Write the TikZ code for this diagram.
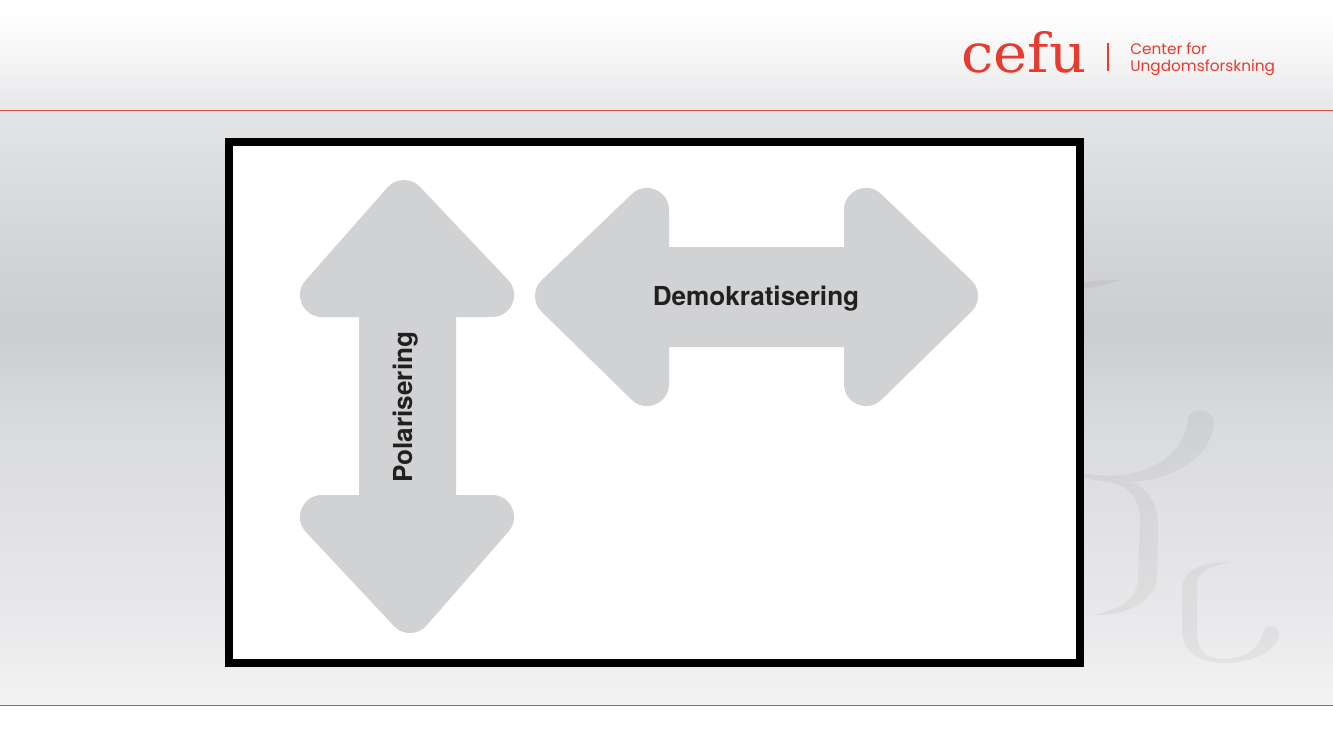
\documentclass[tikz,border=0pt]{standalone}
\usepackage{fontspec}
\setmainfont{TeX Gyre Heros}
\newfontfamily\cefufont{DejaVu Serif}
\newfontfamily\logofont{Poppins}
\definecolor{cefured}{HTML}{E63B2E}
\definecolor{ruletop}{HTML}{DE4A3A}
\definecolor{rulelow}{HTML}{BC5C38}
\definecolor{arrowgray}{HTML}{D1D2D4}
\definecolor{labelink}{HTML}{231F20}
\definecolor{bgA}{HTML}{F3F3F4}
\definecolor{bgB}{HTML}{E9E9EB}
\definecolor{bgC}{HTML}{D9DADC}
\definecolor{bgD}{HTML}{CCCDCF}
\definecolor{bgE}{HTML}{D3D4D6}
\definecolor{bgF}{HTML}{E3E4E6}
\definecolor{bgG}{HTML}{E6E7E9}
\pgfdeclareverticalshading{bandshade}{100bp}{
  color(0bp)=(bgA);
  color(25bp)=(bgA);
  color(32bp)=(bgB);
  color(49bp)=(bgC);
  color(56.5bp)=(bgD);
  color(63bp)=(bgE);
  color(75bp)=(bgF);
  color(100bp)=(bgF)}
\pgfdeclareverticalshading{headshade}{100bp}{
  color(0bp)=(bgG);
  color(25bp)=(bgG);
  color(45bp)=(bgA);
  color(70bp)=(white);
  color(100bp)=(white)}
\tikzset{
  x=0.75pt,y=-0.75pt,
  bigarrow/.style={fill=arrowgray,draw=arrowgray,line width=33pt,line join=round},
  arrowlabel/.style={font=\fontsize{19.6}{19.6}\selectfont\bfseries,text=labelink,inner sep=0pt,anchor=base},
  mark shape/.style={fill=black,fill opacity=0.045,draw=none},
  logotext/.style={font=\logofont\fontsize{11.5}{11.5}\selectfont,text=cefured,inner sep=0pt,anchor=base west},
}
\begin{document}
\begin{tikzpicture}
\useasboundingbox (0,0) rectangle (1333,750);
% background
\fill[white] (0,0) rectangle (1333,750);
\shade[shading=headshade] (0,0) rectangle (1333,110);
\shade[shading=bandshade] (0,110) rectangle (1333,705);
% watermark
\fill[mark shape] (1075,285) .. controls (1090,281) and (1105,279) .. (1120,280) .. controls (1108,284) and (1095,287) .. (1075,291) -- cycle;
\fill[mark shape] (1075,471) .. controls (1110,481) and (1150,475) .. (1173,452) .. controls (1184,440) and (1187,428) .. (1188,417)
  .. controls (1190,408) and (1213,406) .. (1214,423) .. controls (1212,450) and (1185,478) .. (1132,482)
  .. controls (1150,490) and (1158,505) .. (1158,530) -- (1157,577) .. controls (1155,600) and (1130,616) .. (1092,615)
  .. controls (1115,611) and (1138,602) .. (1138,577) -- (1140,520) .. controls (1140,500) and (1130,487) .. (1112,483)
  .. controls (1100,481) and (1085,478) .. (1075,476) -- cycle;
\fill[mark shape] (1232,562) .. controls (1200,562) and (1182,570) .. (1182,590) -- (1182,633)
  .. controls (1184,655) and (1205,664) .. (1227,663) .. controls (1255,662) and (1278,650) .. (1279,634)
  .. controls (1278,624) and (1266,624) .. (1263,632) .. controls (1260,648) and (1245,658) .. (1225,659)
  .. controls (1205,659) and (1197,650) .. (1197,632) -- (1197,585) .. controls (1197,572) and (1210,566) .. (1232,562) -- cycle;
% rules
\draw[ruletop,line width=0.75pt] (0,110.5) -- (1333,110.5);
\draw[rulelow,line width=0.75pt] (0,705.5) -- (1333,705.5);
% logo
\node[font=\cefufont\fontsize{40.5}{40.5}\selectfont,text=cefured,inner sep=0pt,anchor=base west,xscale=1.07] (cefu) at (961,72) {cefu};
\draw[cefured,line width=1.3pt] (1108,43) -- (1108,71);
\node[logotext] (center) at (1130,54) {Center for};
\node[logotext] (ungdom) at (1130,71) {Ungdomsforskning};
% frame
\draw[draw=black,fill=white,line width=6pt,line join=miter] (229,142) rectangle (1080,663);
% arrows
\filldraw[bigarrow] (404,202) -- (492,295) -- (434,295) -- (434,517) -- (492,517) -- (410,611) -- (322,517) -- (381,517) -- (381,295) -- (322,295) -- cycle;
\filldraw[bigarrow] (557,296) -- (647,210) -- (647,269) -- (866,269) -- (866,210) -- (956,296) -- (866,384) -- (866,325) -- (647,325) -- (647,384) -- cycle;
\node[arrowlabel] (dem) at (756,305) {Demokratisering};
\node[arrowlabel,rotate=90] (pol) at (412,407) {Polarisering};
\end{tikzpicture}
\end{document}
